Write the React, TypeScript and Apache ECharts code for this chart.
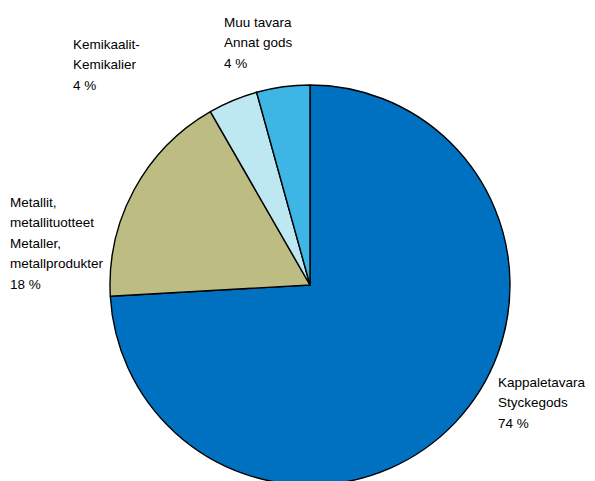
import React, { useEffect, useRef } from "react";
import * as echarts from "echarts";

const categories = [
  "Kappaletavara\nStyckegods",
  "Metallit,\nmetallituotteet\nMetaller,\nmetallprodukter",
  "Kemikaalit-\nKemikalier",
  "Muu tavara\nAnnat gods",
];
const values = [74.1, 17.6, 4.0, 4.3];
const percentLabels = ["74 %", "18 %", "4 %", "4 %"];
const colors = ["#0070C0", "#BDBD83", "#BDE7F1", "#3DB5E5"];
const labelPos = [
  [498, 372],
  [10, 192],
  [73, 34],
  [224, 12],
];

export default function App() {
  const ref = useRef<HTMLDivElement>(null);
  useEffect(() => {
    const chart = echarts.init(ref.current!, null, { renderer: "svg" });
    chart.setOption({
      animation: false,
      backgroundColor: "#ffffff",
      series: [
        {
          type: "pie",
          center: [310, 285],
          radius: 200,
          startAngle: 90,
          clockwise: true,
          data: categories.map((c, i) => ({
            name: c,
            value: values[i],
            itemStyle: { color: colors[i] },
          })),
          itemStyle: { borderColor: "#000", borderWidth: 1.4 },
          label: {
            show: true,
            position: "outside",
            alignTo: "none",
            overflow: "none",
            formatter: (p: any) => `${categories[p.dataIndex]}\n${percentLabels[p.dataIndex]}`,
            color: "#000",
            fontSize: 13.5,
            lineHeight: 20.5,
            fontFamily: "'Liberation Sans', Arial, sans-serif",
          },
          labelLine: { show: false },
          labelLayout: (p: any) => ({
            x: labelPos[p.dataIndex][0],
            y: labelPos[p.dataIndex][1],
            align: "left",
            verticalAlign: "top",
            width: 200,
          }),
          emphasis: { disabled: true },
        },
      ],
    });
    return () => chart.dispose();
  }, []);
  return (
    <div
      ref={ref}
      style={{ position: "absolute", left: 0, top: 0, width: 595, height: 481 }}
    />
  );
}
